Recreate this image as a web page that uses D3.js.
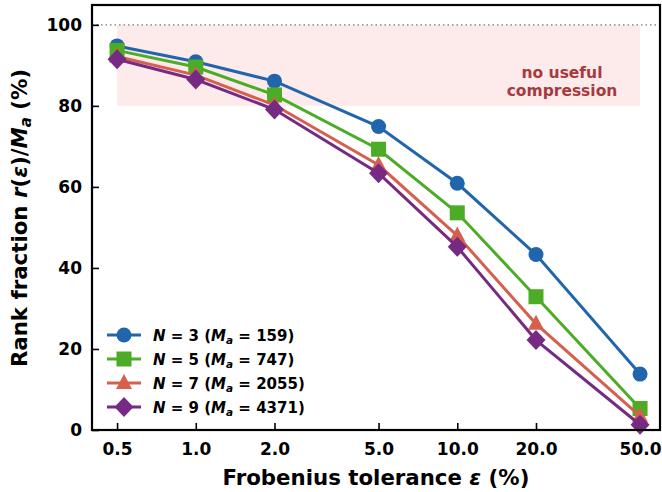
<!DOCTYPE html>
<html>
<head>
<meta charset="utf-8">
<script src="https://cdn.jsdelivr.net/npm/d3@7"></script>
<style>
  body { margin: 0; background: #fff; }
  svg { font-family: "DejaVu Sans", sans-serif; font-weight: bold; }
</style>
</head>
<body>
<div class="chart"></div>
<script>
const tolerances = [0.5, 1, 2, 5, 10, 20, 50];
const tickLabels = ['0.5', '1.0', '2.0', '5.0', '10.0', '20.0', '50.0'];
const yTicks = [0, 20, 40, 60, 80, 100];
const seriesN = [3, 5, 7, 9];
const seriesMa = [159, 747, 2055, 4371];
const n3 = [94.8, 90.9, 86.1, 74.9, 60.9, 43.3, 13.8];
const n5 = [93.7, 89.6, 82.7, 69.3, 53.6, 32.9, 5.3];
const n7 = [92.2, 87.6, 80.2, 65.4, 48.0, 26.2, 3.4];
const n9 = [91.5, 86.5, 79.1, 63.4, 45.2, 22.2, 1.3];
const colors = ['#2166ac', '#4dac26', '#d6604d', '#762a83'];
const shapes = ['circle', 'square', 'triangle', 'diamond'];

const W = 662, H = 492;
const margin = {top: 5, right: 2, bottom: 62, left: 92};

const svg = d3.select('.chart')
  .append('svg')
  .attr('width', W)
  .attr('height', H);

const x = d3.scaleLog()
  .domain([0.401, 59.6])
  .range([margin.left, W - margin.right]);

const y = d3.scaleLinear()
  .domain([0, 104.9])
  .range([H - margin.bottom, margin.top]);

// no-useful-compression band
svg.append('rect')
  .attr('x', x(0.5))
  .attr('y', y(100))
  .attr('width', x(50) - x(0.5))
  .attr('height', y(80) - y(100))
  .attr('fill', '#fdebec');

svg.append('text')
  .attr('x', 562).attr('y', 78)
  .attr('text-anchor', 'middle')
  .attr('font-size', 15.5)
  .attr('fill', '#a8393c')
  .selectAll('tspan')
  .data(['no useful', 'compression'])
  .join('tspan')
  .attr('x', 562)
  .attr('dy', (d, i) => i ? 18 : 0)
  .text(d => d);

// dotted 100% line
svg.append('line')
  .attr('x1', margin.left).attr('x2', W - margin.right)
  .attr('y1', y(100)).attr('y2', y(100))
  .attr('stroke', '#777')
  .attr('stroke-width', 1.3)
  .attr('stroke-dasharray', '1.5,3');

// axes, ticks pointing inward
const xAxis = svg.append('g')
  .attr('transform', `translate(0, ${H - margin.bottom})`)
  .call(d3.axisBottom(x).tickValues(tolerances)
    .tickFormat((d, i) => tickLabels[i]).tickSizeInner(-7).tickSizeOuter(0).tickPadding(13));
const yAxis = svg.append('g')
  .attr('transform', `translate(${margin.left}, 0)`)
  .call(d3.axisLeft(y).tickValues(yTicks).tickSizeInner(-7).tickSizeOuter(0).tickPadding(10));

[xAxis, yAxis].forEach(g => {
  g.select('.domain').remove();
  g.selectAll('.tick line').attr('stroke', '#000').attr('stroke-width', 1.6);
  g.selectAll('.tick text')
    .attr('font-family', '"DejaVu Sans", sans-serif')
    .attr('font-weight', 'bold')
    .attr('font-size', 17)
    .attr('fill', '#000');
});

// series
const allSeries = [n3, n5, n7, n9];
const line = d3.line()
  .x((d, i) => x(tolerances[i]))
  .y(d => y(d));

function marker(g, shape, color) {
  if (shape === 'circle') {
    g.append('circle').attr('r', 7.5).attr('fill', color);
  } else if (shape === 'square') {
    g.append('rect').attr('x', -7.5).attr('y', -7.5).attr('width', 15).attr('height', 15).attr('fill', color);
  } else if (shape === 'triangle') {
    g.append('path').attr('d', 'M0,-9 L8,6 L-8,6 Z').attr('fill', color);
  } else {
    g.append('path').attr('d', 'M0,-10 L9.5,0 L0,10 L-9.5,0 Z').attr('fill', color);
  }
}

allSeries.forEach((vals, k) => {
  svg.append('path')
    .attr('d', line(vals))
    .attr('fill', 'none')
    .attr('stroke', colors[k])
    .attr('stroke-width', 3);
  vals.forEach((v, i) => {
    const g = svg.append('g').attr('transform', `translate(${x(tolerances[i])}, ${y(v)})`);
    marker(g, shapes[k], colors[k]);
  });
});

// frame
svg.append('rect')
  .attr('x', margin.left).attr('y', margin.top)
  .attr('width', W - margin.right - margin.left)
  .attr('height', H - margin.bottom - margin.top)
  .attr('fill', 'none')
  .attr('stroke', '#000')
  .attr('stroke-width', 2.2);

// legend
const legend = svg.append('g').attr('transform', 'translate(107, 335)');
seriesN.forEach((n, k) => {
  const g = legend.append('g').attr('transform', `translate(0, ${k * 24})`);
  g.append('line').attr('x1', 0).attr('x2', 34).attr('stroke', colors[k]).attr('stroke-width', 3);
  const m = g.append('g').attr('transform', 'translate(17, 0)');
  marker(m, shapes[k], colors[k]);
  const t = g.append('text').attr('x', 46).attr('y', 5.5).attr('font-size', 15);
  t.append('tspan').attr('font-style', 'italic').text('N');
  t.append('tspan').text(` = ${n} (`);
  t.append('tspan').attr('font-style', 'italic').text('M');
  t.append('tspan').attr('font-style', 'italic').attr('font-size', 10.5).attr('dy', 3).text('a');
  t.append('tspan').attr('dy', -3).text(` = ${seriesMa[k]})`);
});

// axis labels
svg.append('text')
  .attr('x', 376).attr('y', 485)
  .attr('text-anchor', 'middle')
  .attr('font-size', 21.3)
  .call(t => {
    t.append('tspan').text('Frobenius tolerance ');
    t.append('tspan').attr('font-style', 'italic').text('ε');
    t.append('tspan').text(' (%)');
  });

svg.append('text')
  .attr('transform', 'translate(27, 218) rotate(-90)')
  .attr('text-anchor', 'middle')
  .attr('font-size', 21.3)
  .call(t => {
    t.append('tspan').text('Rank fraction ');
    t.append('tspan').attr('font-style', 'italic').text('r');
    t.append('tspan').text('(');
    t.append('tspan').attr('font-style', 'italic').text('ε');
    t.append('tspan').text(')/');
    t.append('tspan').attr('font-style', 'italic').text('M');
    t.append('tspan').attr('font-style', 'italic').attr('font-size', 15).attr('dy', 4).text('a');
    t.append('tspan').attr('dy', -4).text(' (%)');
  });
</script>
</body>
</html>
